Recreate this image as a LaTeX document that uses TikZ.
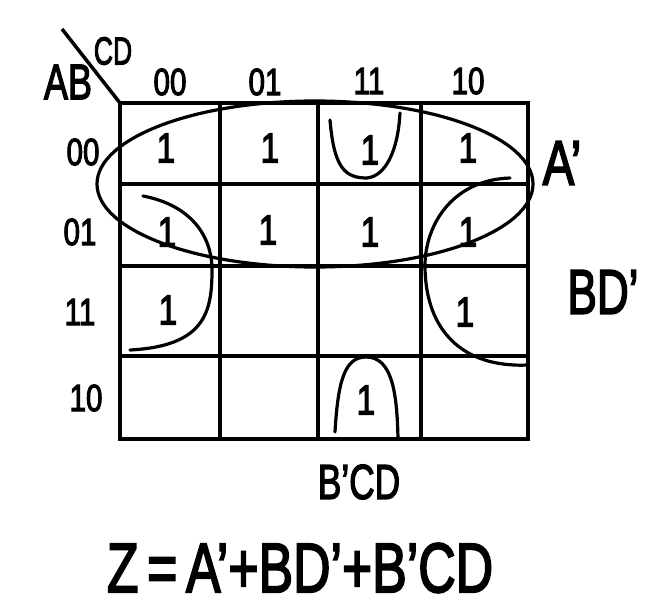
\documentclass[tikz,border=0pt]{standalone}
\usepackage{fontspec}
\setmainfont{Liberation Sans}[FakeBold=3]
\newcommand{\hw}[3]{\scalebox{#1}[1]{\fontsize{#2}{#2}\selectfont #3}}
\begin{document}
\begin{tikzpicture}[x=1pt,y=-1pt,
  gridline/.style={line width=3.5pt},
  loopline/.style={line width=3.2pt, line cap=round},
  lbl/.style={inner sep=0pt, anchor=center}]
\useasboundingbox (0,0) rectangle (658,613);
\fill[white] (0,0) rectangle (658,613);
% grid
\draw[gridline] (120,103) rectangle (528,439);
\foreach \y in {184,266,356} \draw[gridline] (120,\y) -- (528,\y);
\foreach \x in {220,318,421} \draw[gridline] (\x,103) -- (\x,439);
\draw[gridline] (62,29) -- (120,103);
% corner labels
\node[lbl] (ab) at (68,82) {\hw{0.72}{50}{AB}};
\node[lbl] (cd) at (113,51) {\hw{0.68}{39}{CD}};
% column headers
\node[lbl] (c00) at (170,82) {\hw{0.78}{38}{00}};
\node[lbl] (c01) at (265,82) {\hw{0.78}{38}{01}};
\node[lbl] (c11) at (369,81) {\hw{0.78}{38}{11}};
\node[lbl] (c10) at (468,81) {\hw{0.78}{38}{10}};
% row headers
\node[lbl] (r00) at (83,152) {\hw{0.78}{38}{00}};
\node[lbl] (r01) at (80,232) {\hw{0.78}{38}{01}};
\node[lbl] (r11) at (80,312) {\hw{0.78}{38}{11}};
\node[lbl] (r10) at (86,398) {\hw{0.78}{38}{10}};
% ones
\node[lbl] (m0) at (166,148) {\hw{0.8}{42}{1}};
\node[lbl] (m1) at (270,148) {\hw{0.8}{42}{1}};
\node[lbl] (m3) at (370,150) {\hw{0.8}{42}{1}};
\node[lbl] (m2) at (468,148) {\hw{0.8}{42}{1}};
\node[lbl] (m4) at (167,232) {\hw{0.8}{42}{1}};
\node[lbl] (m5) at (268,230) {\hw{0.8}{42}{1}};
\node[lbl] (m7) at (370,232) {\hw{0.8}{42}{1}};
\node[lbl] (m6) at (468,232) {\hw{0.8}{42}{1}};
\node[lbl] (m12) at (168,310) {\hw{0.8}{42}{1}};
\node[lbl] (m14) at (465,312) {\hw{0.8}{42}{1}};
\node[lbl] (m11) at (366,400) {\hw{0.8}{42}{1}};
% loops
\draw[loopline] (315,184) ellipse [x radius=218, y radius=83];
\draw[loopline] (143,196) .. controls (190,205) and (212,235) .. (212,270)
  .. controls (212,312) and (205,346) .. (130,350);
\draw[loopline] (510,178) .. controls (450,180) and (424,228) .. (425,268)
  .. controls (426,330) and (462,368) .. (528,365);
\draw[loopline] (330,120) .. controls (334,168) and (345,178) .. (367,178)
  .. controls (386,176) and (398,150) .. (400,113);
\draw[loopline] (335,432) .. controls (338,380) and (345,357) .. (366,357)
  .. controls (392,357) and (397,392) .. (398,439);
% group labels
\node[lbl] (la) at (562,163) {\hw{0.75}{63}{A’}};
\node[lbl] (lbd) at (603,292) {\hw{0.7}{63}{BD’}};
\node[lbl] (lbcd) at (359,482) {\hw{0.72}{49}{B’CD}};
% equation
\node[lbl] (eq) at (300,568) {\hw{0.74}{70}{Z\,=\,A’+BD’+B’CD}};
\end{tikzpicture}
\end{document}
